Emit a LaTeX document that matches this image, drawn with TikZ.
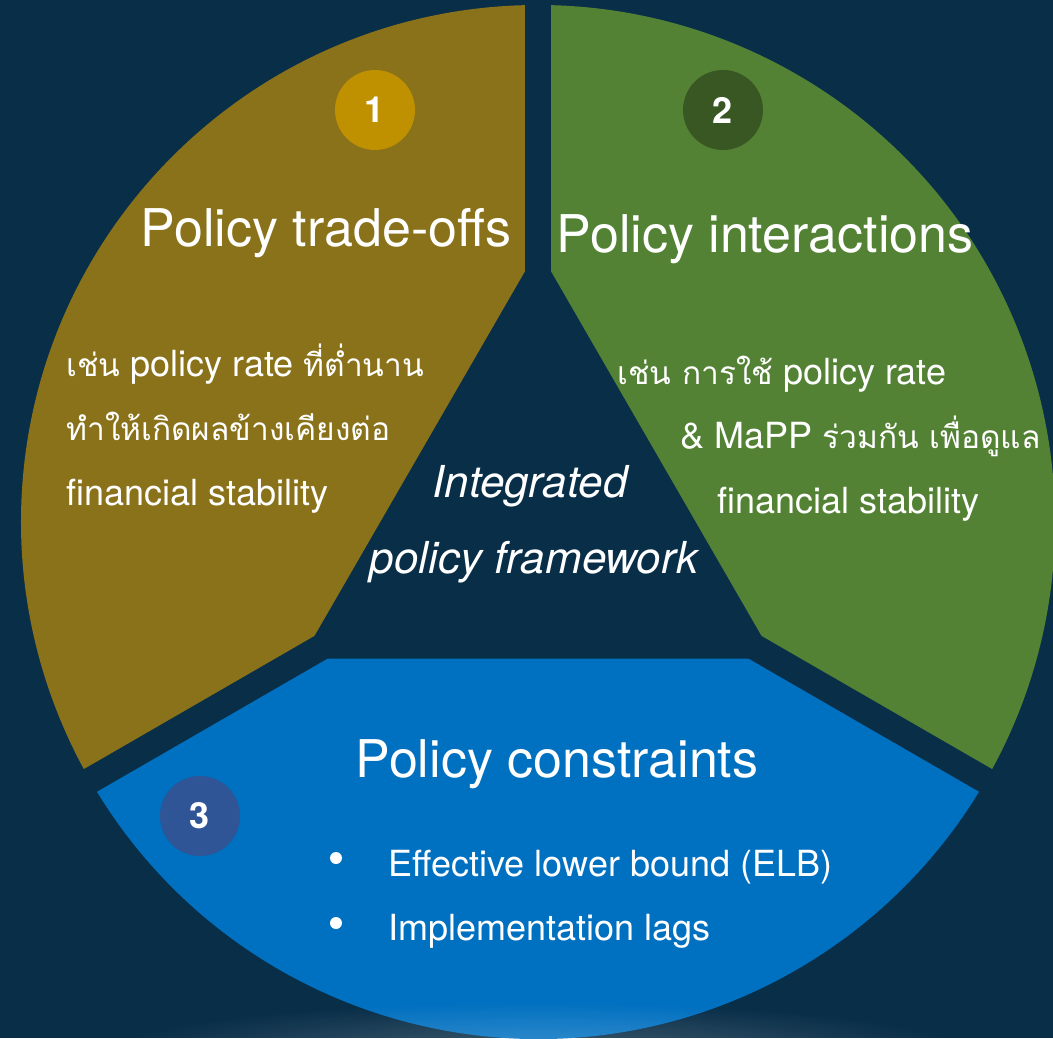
\documentclass[tikz,border=0pt]{standalone}
\usepackage{fontspec}
\setmainfont{TeX Gyre Heros}
\newfontfamily\thaifont[Script=Thai, Scale=0.88]{Loma}
\usetikzlibrary{fadings}

\definecolor{bgnavy}{HTML}{092E48}
\definecolor{olivesec}{HTML}{8A721A}
\definecolor{greensec}{HTML}{548235}
\definecolor{bluesec}{HTML}{0070C0}
\definecolor{numgold}{HTML}{BF9000}
\definecolor{numgreen}{HTML}{385723}
\definecolor{numblue}{HTML}{2F5597}

\tikzfading[name=softglow, inner color=transparent!0, outer color=transparent!100]

\tikzset{
  numdot/.style={circle, minimum size=40pt, inner sep=0pt, text=white,
    font=\fontsize{18}{18}\selectfont\bfseries},
  sectitle/.style={anchor=base, inner sep=0pt, text=white,
    font=\fontsize{26}{30}\selectfont},
  bodyline/.style={anchor=base west, inner sep=0pt, text=white,
    font=\fontsize{18}{22}\selectfont},
  centreline/.style={anchor=base, inner sep=0pt, text=white,
    font=\fontsize{22}{26}\selectfont\itshape},
  bulletdot/.style={circle, fill=white, minimum size=6pt, inner sep=0pt}
}

\begin{document}
\begin{tikzpicture}[x=0.5pt, y=0.5pt]
    % 背景
    \fill[bgnavy] (-538,-516) rectangle (515,522);
    \useasboundingbox (-538,-516) rectangle (515,522);

% 三个扇形
    \fill[olivesec] (0,0) -- (90:517) arc[start angle=90, end angle=210, radius=517] -- cycle;
    \fill[greensec] (0,0) -- (-30:517) arc[start angle=-30, end angle=90, radius=517] -- cycle;
    \fill[bluesec] (0,0) -- (210:517) arc[start angle=210, end angle=330, radius=517] -- cycle;

% 底部的微光
    \fill[white, fill opacity=0.22, path fading=softglow]
        (0,-530) ellipse[x radius=430, y radius=50];

% 扇形之间的缝和中间的三角形
    \foreach \a in {90,210,330}
        \draw[bgnavy, line width=13pt] (0,0) -- (\a:560);
    \fill[bgnavy] (90:273) -- (210:273) -- (330:273) -- cycle;

% 编号
    \node[numdot, fill=numgold] (num1) at (-163,412) {1};
    \node[numdot, fill=numgreen] (num2) at (185,412) {2};
    \node[numdot, fill=numblue] (num3) at (-338,-294) {3};

% 标题
    \node[sectitle] (tradeoffs) at (-212,275) {Policy trade-offs};
    \node[sectitle] (interactions) at (227,269) {Policy interactions};
    \node[sectitle] (constraints) at (19,-255) {Policy constraints};

% 左边的说明
    \node[bodyline] (left1) at (-472,145) {{\thaifont เช่น} policy rate {\thaifont ที่ต่ำนาน}};
    \node[bodyline] (left2) at (-472,82) {\thaifont ทำให้เกิดผลข้างเคียงต่อ};
    \node[bodyline] (left3) at (-472,17) {financial stability};

% 右边的说明
    \node[bodyline] (right1) at (79,137) {{\thaifont เช่น การใช้} policy rate};
    \node[bodyline] (right2) at (142,74) {\& MaPP {\thaifont ร่วมกัน เพื่อดูแล}};
    \node[bodyline] (right3) at (179,9) {financial stability};

% 中间
    \node[centreline] (ipf1) at (-8,25) {Integrated};
    \node[centreline] (ipf2) at (-4,-51) {policy framework};

% 限制条目
    \node[bulletdot] (dot1) at (-202,-336) {};
    \node[bulletdot] (dot2) at (-202,-401) {};
    \node[bodyline] (elb) at (-150,-354) {Effective lower bound (ELB)};
    \node[bodyline] (lags) at (-150,-418) {Implementation lags};
\end{tikzpicture}
\end{document}
